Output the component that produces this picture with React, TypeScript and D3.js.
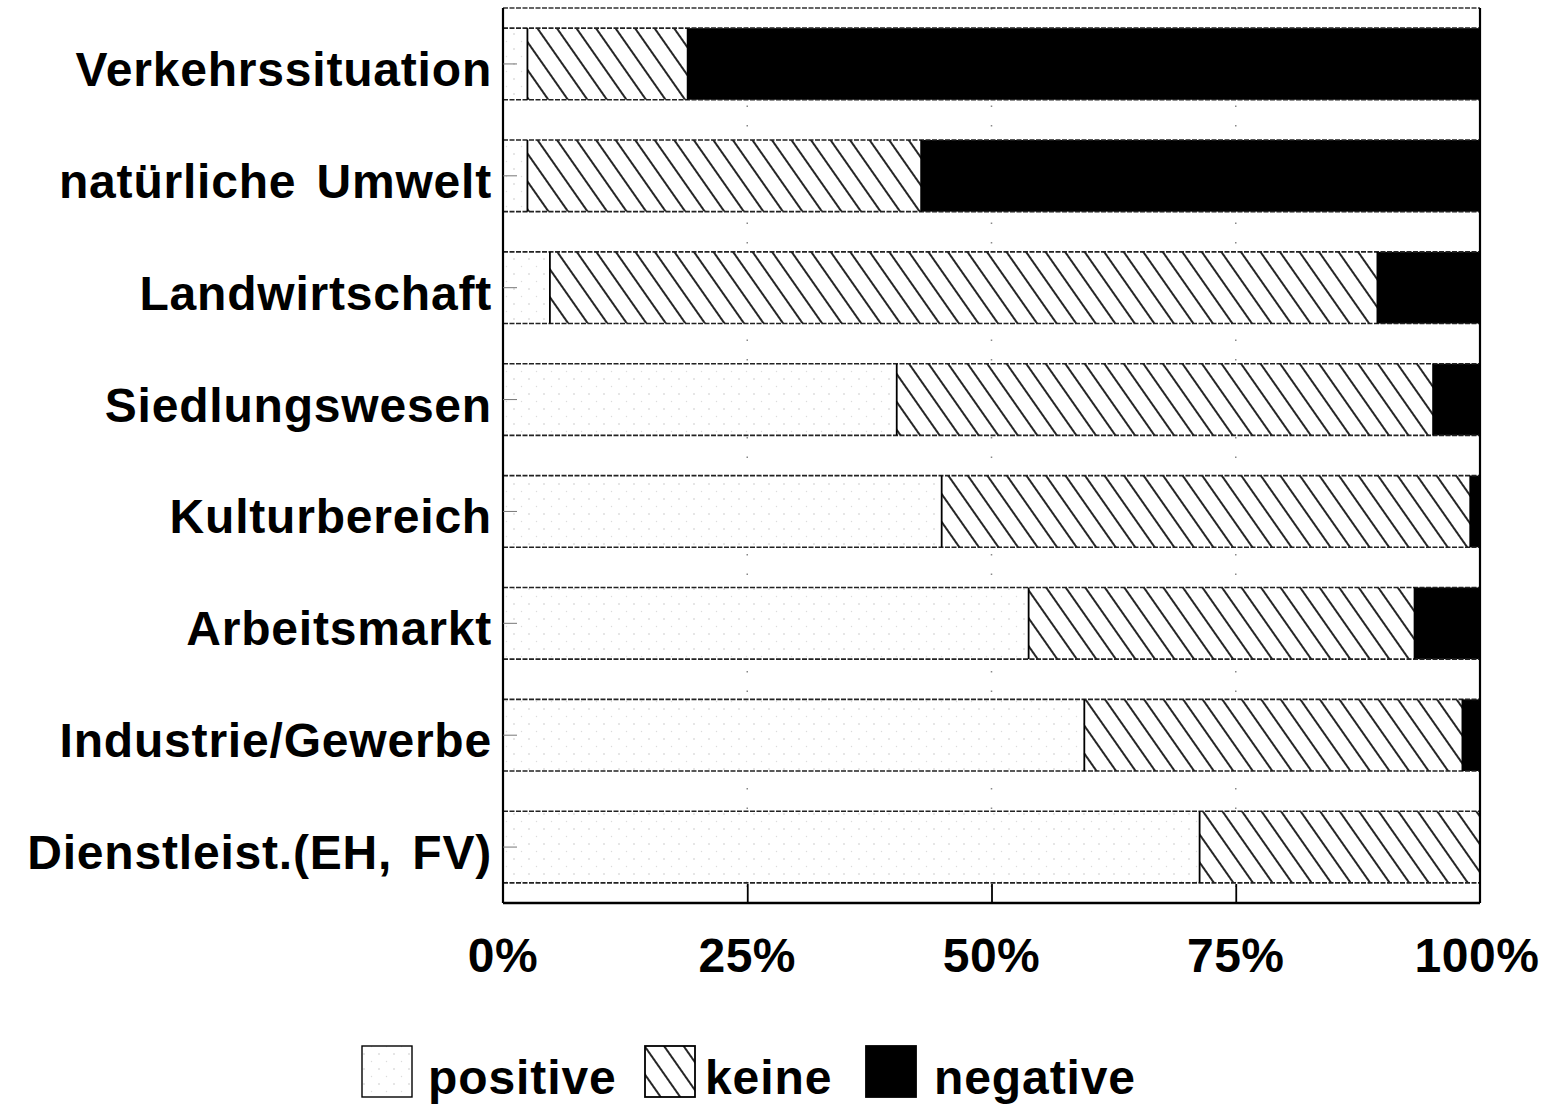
import * as d3 from "d3";
import { useEffect, useRef } from "react";

const categories = [
  "Verkehrssituation",
  "natürliche Umwelt",
  "Landwirtschaft",
  "Siedlungswesen",
  "Kulturbereich",
  "Arbeitsmarkt",
  "Industrie/Gewerbe",
  "Dienstleist.(EH, FV)",
];
const positive = [2.5, 2.5, 4.8, 40.3, 44.9, 53.8, 59.5, 71.3];
const keine = [16.4, 40.3, 84.7, 54.9, 54.1, 39.5, 38.7, 28.7];
const negative = [81.1, 57.2, 10.5, 4.8, 1.0, 6.7, 1.8, 0];
const seriesKeys = ["positive", "keine", "negative"];
const tickValues = [0, 25, 50, 75, 100];

export default function App() {
  const svgRef = useRef<SVGSVGElement | null>(null);
  const width = 1551;
  const height = 1106;
  const left = 503;
  const right = 1480;
  const top = 8;
  const bottom = 903;
  const font = "'Liberation Sans', Arial, Helvetica, sans-serif";

  useEffect(() => {
    const svg = d3.select(svgRef.current);
    svg.selectAll("*").remove();

    const rows = categories.map((c, i) => ({
      cat: c,
      positive: positive[i],
      keine: keine[i],
      negative: negative[i],
    }));
    const stacked = d3.stack<any>().keys(seriesKeys)(rows);

    const x = d3.scaleLinear().domain([0, 100]).range([left, right]);
    const y = d3.scaleBand().domain(categories).range([top, bottom])
      .paddingInner(0.36).paddingOuter(0.18);

    // patterns
    const defs = svg.append("defs");
    const dots = defs.append("pattern")
      .attr("id", "dots")
      .attr("patternUnits", "userSpaceOnUse")
      .attr("width", 15).attr("height", 15);
    dots.append("rect").attr("width", 15).attr("height", 15).attr("fill", "#fff");
    dots.append("circle").attr("cx", 4).attr("cy", 4).attr("r", 0.8).attr("fill", "#c8c8c8");
    dots.append("circle").attr("cx", 11.5).attr("cy", 11.5).attr("r", 0.7).attr("fill", "#dcdcdc");

    const hatch = defs.append("pattern")
      .attr("id", "hatch")
      .attr("patternUnits", "userSpaceOnUse")
      .attr("width", 16).attr("height", 16)
      .attr("patternTransform", "rotate(-35)");
    hatch.append("rect").attr("width", 16).attr("height", 16).attr("fill", "#fff");
    hatch.append("line")
      .attr("x1", 8).attr("x2", 8).attr("y1", 0).attr("y2", 16)
      .attr("stroke", "#000").attr("stroke-width", 1.7);

    const fills: Record<string, string> = {
      positive: "url(#dots)",
      keine: "url(#hatch)",
      negative: "#000",
    };

    // faint vertical grid
    svg.append("g")
      .selectAll("line")
      .data([25, 50, 75])
      .enter()
      .append("line")
      .attr("x1", d => x(d)).attr("x2", d => x(d))
      .attr("y1", top).attr("y2", bottom)
      .attr("stroke", "#888")
      .attr("stroke-width", 1.5)
      .attr("stroke-dasharray", "1.5,18");

    // bars
    const layer = svg.append("g");
    stacked.forEach(s => {
      layer.append("g")
        .selectAll("rect")
        .data(s)
        .enter()
        .append("rect")
        .attr("x", d => x(d[0]))
        .attr("y", d => y(d.data.cat) as number)
        .attr("width", d => Math.max(0, x(d[1]) - x(d[0])))
        .attr("height", y.bandwidth())
        .attr("fill", fills[s.key]);
    });

    // bar outlines (top/bottom edges dashed, segment boundaries solid)
    categories.forEach((c, i) => {
      const y0 = y(c) as number;
      const y1 = y0 + y.bandwidth();
      [y0, y1].forEach(yy => {
        layer.append("line")
          .attr("x1", left).attr("x2", right)
          .attr("y1", yy).attr("y2", yy)
          .attr("stroke", "#222")
          .attr("stroke-width", 1.6)
          .attr("stroke-dasharray", "5,1.5");
      });
      const b1 = positive[i];
      const b2 = positive[i] + keine[i];
      [b1, b2].filter(v => v > 0 && v < 100).forEach(v => {
        layer.append("line")
          .attr("x1", x(v)).attr("x2", x(v))
          .attr("y1", y0).attr("y2", y1)
          .attr("stroke", "#000")
          .attr("stroke-width", 1.8);
      });
    });

    // frame
    svg.append("line")
      .attr("x1", left).attr("x2", right).attr("y1", top).attr("y2", top)
      .attr("stroke", "#333").attr("stroke-width", 1.6).attr("stroke-dasharray", "5,1.5");
    svg.append("line")
      .attr("x1", left).attr("x2", right).attr("y1", bottom).attr("y2", bottom)
      .attr("stroke", "#000").attr("stroke-width", 2.4);
    svg.append("line")
      .attr("x1", left).attr("x2", left).attr("y1", top).attr("y2", bottom)
      .attr("stroke", "#000").attr("stroke-width", 2.2);
    svg.append("line")
      .attr("x1", right).attr("x2", right).attr("y1", top).attr("y2", bottom)
      .attr("stroke", "#000").attr("stroke-width", 2.2);

    // left ticks (inside) and category labels
    const yAxis = d3.axisRight(y).tickSize(14).tickFormat(() => "");
    svg.append("g")
      .attr("transform", `translate(${left},0)`)
      .call(yAxis)
      .call(g => g.select(".domain").remove())
      .call(g => g.selectAll(".tick line").attr("stroke", "#777").attr("stroke-width", 1));

    svg.append("g")
      .selectAll("text")
      .data(categories)
      .enter()
      .append("text")
      .attr("x", left - 11)
      .attr("y", d => (y(d) as number) + y.bandwidth() / 2 + 22)
      .attr("text-anchor", "end")
      .attr("font-family", font)
      .attr("font-weight", "bold")
      .attr("font-size", 48)
      .attr("letter-spacing", 0.8)
      .attr("word-spacing", 6)
      .attr("fill", "#000")
      .text(d => d);

    // bottom ticks (inside) and labels
    const xAxis = d3.axisTop(x).tickValues([25, 50, 75]).tickSize(19).tickFormat(() => "");
    svg.append("g")
      .attr("transform", `translate(0,${bottom})`)
      .call(xAxis)
      .call(g => g.select(".domain").remove())
      .call(g => g.selectAll(".tick line").attr("stroke", "#000").attr("stroke-width", 1.8));

    svg.append("g")
      .selectAll("text")
      .data(tickValues)
      .enter()
      .append("text")
      .attr("x", d => x(d) + (d === 100 ? -3 : 0))
      .attr("y", 972)
      .attr("text-anchor", "middle")
      .attr("font-family", font)
      .attr("font-weight", "bold")
      .attr("font-size", 48)
      .attr("letter-spacing", 0.5)
      .text(d => `${d}%`);

    // legend
    const legend = [
      { key: "positive", box: 362, text: 428 },
      { key: "keine", box: 645, text: 705 },
      { key: "negative", box: 866, text: 934 },
    ];
    const lg = svg.append("g");
    legend.forEach(l => {
      lg.append("rect")
        .attr("x", l.box).attr("y", 1046)
        .attr("width", 50).attr("height", 51)
        .attr("fill", fills[l.key])
        .attr("stroke", "#000")
        .attr("stroke-width", l.key === "positive" ? 1.4 : 1.8);
      lg.append("text")
        .attr("x", l.text).attr("y", 1094)
        .attr("font-family", font)
        .attr("font-weight", "bold")
        .attr("font-size", 48)
        .attr("letter-spacing", 0.9)
        .text(l.key);
    });
  }, []);

  return (
    <svg
      ref={svgRef}
      width={width}
      height={height}
      style={{ position: "absolute", left: 0, top: 0, background: "#fff" }}
    />
  );
}
